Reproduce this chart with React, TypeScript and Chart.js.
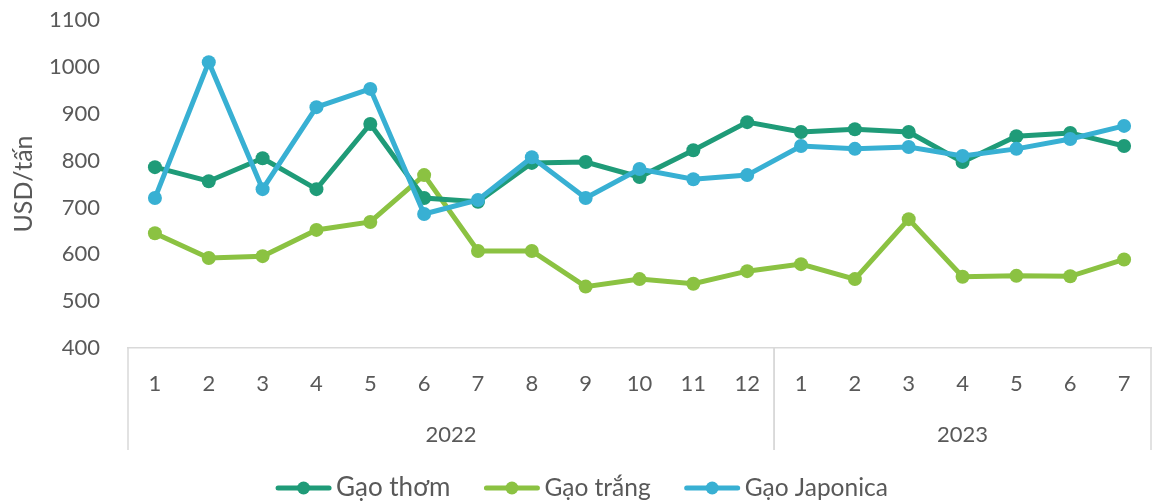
import { useEffect, useRef } from 'react';
import { Chart, registerables } from 'chart.js';

Chart.register(...registerables);

const FONT = 'Lato, "Open Sans", sans-serif';
const TEXT = '#595959';
const AXIS = '#d9d9d9';

const monthLabels = ['1', '2', '3', '4', '5', '6', '7', '8', '9', '10', '11', '12', '1', '2', '3', '4', '5', '6', '7'];
const yearLabels = ['2022', '2023'];
const yearMonthCounts = [12, 7];

const gaoThom = [786, 756, 805, 739, 878, 720, 712, 795, 797, 765, 822, 882, 861, 867, 861, 797, 852, 859, 831];
const gaoTrang = [645, 592, 596, 652, 669, 769, 607, 607, 531, 547, 537, 564, 579, 547, 675, 552, 554, 553, 589];
const gaoJaponica = [720, 1010, 739, 914, 953, 686, 716, 807, 720, 782, 760, 769, 831, 825, 829, 810, 825, 846, 874];

const seriesNames = ['Gạo thơm', 'Gạo trắng', 'Gạo Japonica'];
const seriesColors = ['#1f9b78', '#8bc242', '#38b0d3'];
const legendFontSizes = [26, 24.5, 24.5];

const groupAndLegendPlugin = {
  id: 'groupAndLegend',
  afterDraw(chart: any) {
    const { ctx, chartArea, scales } = chart;
    const x = scales.x;
    const step = x.getPixelForValue(1) - x.getPixelForValue(0);
    const lineTop = chartArea.bottom;
    const lineBottom = x.bottom - 12;
    ctx.save();
    ctx.strokeStyle = AXIS;
    ctx.lineWidth = 1.5;
    ctx.fillStyle = TEXT;
    ctx.font = `22px ${FONT}`;
    ctx.textAlign = 'center';
    ctx.textBaseline = 'middle';
    let start = 0;
    yearMonthCounts.forEach((n, i) => {
      const left = x.getPixelForValue(start) - step / 2;
      const right = x.getPixelForValue(start + n - 1) + step / 2;
      [left, right].forEach((px) => {
        ctx.beginPath();
        ctx.moveTo(px, lineTop);
        ctx.lineTo(px, lineBottom);
        ctx.stroke();
      });
      ctx.fillText(yearLabels[i], (left + right) / 2, chartArea.bottom + 87);
      start += n;
    });

    // legend
    const markerW = 55;
    const gapText = 5;
    const gapItems = 34;
    const widths = seriesNames.map((name, i) => {
      ctx.font = `${legendFontSizes[i]}px ${FONT}`;
      return markerW + gapText + ctx.measureText(name).width;
    });
    const total = widths.reduce((a, b) => a + b, 0) + gapItems * (widths.length - 1);
    let cx = 1152 / 2 - total / 2 + 6;
    const cy = chart.height - 14;
    ctx.textAlign = 'left';
    seriesNames.forEach((name, i) => {
      ctx.strokeStyle = seriesColors[i];
      ctx.fillStyle = seriesColors[i];
      ctx.lineWidth = 5;
      ctx.lineCap = 'round';
      ctx.beginPath();
      ctx.moveTo(cx + 2, cy);
      ctx.lineTo(cx + markerW - 2, cy);
      ctx.stroke();
      ctx.beginPath();
      ctx.arc(cx + markerW / 2, cy, 6.5, 0, Math.PI * 2);
      ctx.fill();
      ctx.fillStyle = TEXT;
      ctx.font = `${legendFontSizes[i]}px ${FONT}`;
      ctx.fillText(name, cx + markerW + gapText, cy);
      cx += widths[i] + gapItems;
    });
    ctx.restore();
  },
};

export default function App() {
  const ref = useRef<HTMLCanvasElement>(null);
  useEffect(() => {
    if (!ref.current) return;
    const data = [gaoThom, gaoTrang, gaoJaponica];
    const orders = [1, 2, 0];
    const chart = new Chart(ref.current, {
      type: 'line',
      data: {
        labels: monthLabels,
        datasets: data.map((d, i) => ({
          label: seriesNames[i],
          data: d,
          borderColor: seriesColors[i],
          backgroundColor: seriesColors[i],
          pointBackgroundColor: seriesColors[i],
          pointBorderWidth: 0,
          pointRadius: 7,
          borderWidth: 5,
          tension: 0,
          order: orders[i],
        })),
      },
      options: {
        animation: false,
        responsive: false,
        layout: { padding: { top: 20, bottom: 40, left: 0, right: 0 } },
        plugins: {
          legend: { display: false },
          tooltip: { enabled: false },
        },
        scales: {
          x: {
            offset: true,
            grid: { display: false, offset: true },
            border: { display: true, color: AXIS, width: 1.5 },
            ticks: { color: TEXT, font: { family: FONT, size: 22 }, padding: 15, maxRotation: 0, autoSkip: false },
            afterFit(scale: any) {
              scale.height = 114;
            },
          },
          y: {
            min: 400,
            max: 1100,
            grid: { display: false, drawTicks: false },
            border: { display: false },
            ticks: {
              stepSize: 100,
              color: TEXT,
              font: { family: FONT, size: 22 },
              padding: 28,
              callback: (v: any) => String(v),
            },
            title: {
              display: true,
              text: 'USD/tấn',
              color: TEXT,
              font: { family: FONT, size: 25 },
              padding: { top: 9, bottom: 0 },
            },
            afterFit(scale: any) {
              scale.width = 128;
              scale.paddingTop = 0;
              scale.paddingBottom = 0;
            },
          },
        },
      },
      plugins: [groupAndLegendPlugin],
    });
    return () => chart.destroy();
  }, []);
  return (
    <div style={{ position: 'fixed', left: 0, top: 0, width: 1152, height: 502, overflow: 'hidden', background: '#fff' }}>
      <canvas ref={ref} width={1158} height={502} style={{ display: 'block' }} />
    </div>
  );
}
